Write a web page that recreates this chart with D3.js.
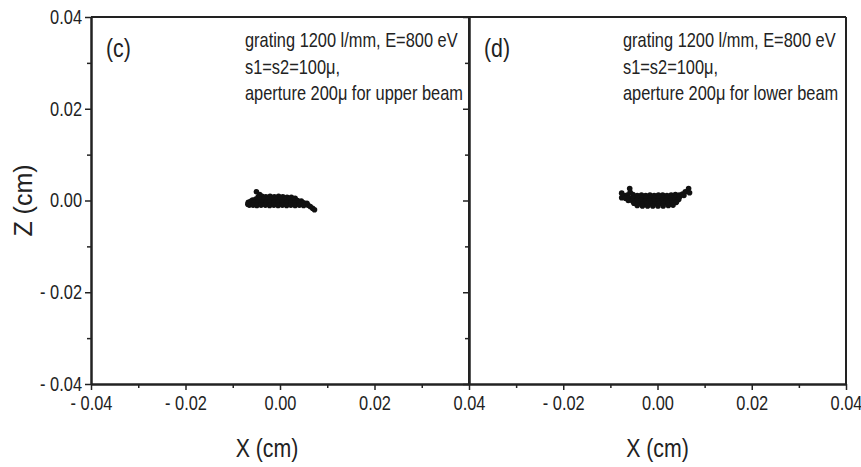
<!DOCTYPE html>
<html>
<head>
<meta charset="utf-8">
<script src="https://cdn.jsdelivr.net/npm/d3@7"></script>
<style>
  body { margin: 0; background: #fff; }
  svg { display: block; }
  .narrow { font-family: "Liberation Sans Narrow", "Arial Narrow", "Liberation Sans", Arial, sans-serif; fill: #222; }
</style>
</head>
<body>
<svg width="861" height="467"></svg>
<script>
const svg = d3.select('svg');

// axis ticks (cm)
const majorTicks = [-0.04, -0.02, 0, 0.02, 0.04];
const minorTicks = [-0.03, -0.01, 0.01, 0.03];

// panel labels and notes
const panelTags = ['(c)', '(d)'];
const notesC = ['grating 1200 l/mm, E=800 eV', 's1=s2=100\u03bc,', 'aperture 200\u03bc for upper beam'];
const notesD = ['grating 1200 l/mm, E=800 eV', 's1=s2=100\u03bc,', 'aperture 200\u03bc for lower beam'];

// spot positions [x, z] in cm
const spotsC = [
  [-0.0050, 0.0019], [-0.0043, 0.0013],
  [-0.0046, 0.0008], [-0.0038, 0.0009], [-0.0030, 0.0008], [-0.0021, 0.0009], [-0.0012, 0.0008],
  [-0.0003, 0.0009], [0.0006, 0.0008], [0.0015, 0.0007], [0.0024, 0.0007], [0.0032, 0.0005],
  [-0.0058, 0.0001], [-0.0051, 0.0003], [-0.0042, 0.0002], [-0.0034, 0.0003], [-0.0026, 0.0002],
  [-0.0017, 0.0003], [-0.0008, 0.0002], [0.0001, 0.0003], [0.0010, 0.0002], [0.0019, 0.0002],
  [0.0028, 0.0001], [0.0037, 0.0000], [0.0045, -0.0001],
  [-0.0067, -0.0004], [-0.0062, -0.0002], [-0.0055, -0.0004], [-0.0047, -0.0003], [-0.0039, -0.0004],
  [-0.0030, -0.0004], [-0.0022, -0.0003], [-0.0013, -0.0004], [-0.0004, -0.0004], [0.0005, -0.0003],
  [0.0014, -0.0004], [0.0023, -0.0004], [0.0032, -0.0005], [0.0041, -0.0005], [0.0050, -0.0005],
  [0.0057, -0.0006],
  [-0.0065, -0.0010], [-0.0057, -0.0010], [-0.0049, -0.0011], [-0.0040, -0.0010], [-0.0031, -0.0010],
  [-0.0022, -0.0011], [-0.0013, -0.0010], [-0.0004, -0.0011], [0.0005, -0.0010], [0.0014, -0.0011],
  [0.0023, -0.0010], [0.0032, -0.0011], [0.0041, -0.0010], [0.0050, -0.0011], [0.0059, -0.0010],
  [0.0064, -0.0013], [0.0069, -0.0017], [0.0073, -0.0020], [-0.0068, -0.0008]
];

const spotsD = [
  [-0.0076, 0.0016], [-0.0076, 0.0006], [-0.0070, 0.0011], [-0.0059, 0.0026], [-0.0058, 0.0018],
  [-0.0064, 0.0012], [-0.0052, 0.0013], [-0.0043, 0.0011], [-0.0034, 0.0012], [-0.0025, 0.0011],
  [-0.0016, 0.0012], [-0.0007, 0.0011], [0.0002, 0.0012], [0.0011, 0.0012], [0.0020, 0.0011],
  [0.0029, 0.0012], [0.0038, 0.0013], [0.0046, 0.0012], [0.0053, 0.0014],
  [-0.0068, 0.0005], [-0.0060, 0.0006], [-0.0051, 0.0006], [-0.0042, 0.0005], [-0.0033, 0.0006],
  [-0.0024, 0.0006], [-0.0015, 0.0005], [-0.0006, 0.0006], [0.0003, 0.0006], [0.0012, 0.0005],
  [0.0021, 0.0006], [0.0030, 0.0006], [0.0039, 0.0007], [0.0047, 0.0008],
  [-0.0062, 0.0000], [-0.0053, -0.0001], [-0.0044, 0.0000], [-0.0035, 0.0000], [-0.0026, -0.0001],
  [-0.0017, 0.0000], [-0.0008, 0.0000], [0.0001, -0.0001], [0.0010, 0.0000], [0.0019, 0.0000],
  [0.0028, 0.0000], [0.0037, 0.0001], [0.0045, 0.0002],
  [-0.0050, -0.0006], [-0.0041, -0.0006], [-0.0032, -0.0007], [-0.0023, -0.0006], [-0.0014, -0.0006],
  [-0.0005, -0.0007], [0.0004, -0.0006], [0.0013, -0.0006], [0.0022, -0.0006], [0.0031, -0.0005],
  [0.0040, -0.0004],
  [-0.0043, -0.0011], [-0.0032, -0.0012], [-0.0021, -0.0012], [-0.0010, -0.0012], [0.0001, -0.0012],
  [0.0012, -0.0012], [0.0023, -0.0011], [0.0033, -0.0010],
  [0.0059, 0.0019], [0.0066, 0.0026], [0.0068, 0.0017], [0.0056, 0.0011]
];

const plotTop = 17, plotBottom = 384;
const fmt = d => (d < 0 ? '- ' : '') + Math.abs(d).toFixed(2);

const y = d3.scaleLinear().domain([-0.04, 0.04]).range([plotBottom, plotTop]);

const panels = [
  { x0: 91, x1: 469, tag: panelTags[0], notes: notesC, spots: spotsC, first: true, titleShift: -13 },
  { x0: 469, x1: 846, tag: panelTags[1], notes: notesD, spots: spotsD, first: false, titleShift: 0 }
];

// no narrow font installed, so squeeze the regular one sideways
const squeeze = sel => sel.each(function () {
  const t = d3.select(this);
  const tx = +t.attr('x') || 0;
  const ty = +t.attr('y') || 0;
  t.attr('x', 0).attr('y', 0)
    .attr('transform', `translate(${tx},${ty}) scale(0.82,1)`);
});

const styleAxis = g => {
  g.select('.domain').attr('stroke', '#222').attr('stroke-width', 2);
  g.selectAll('.tick line').attr('stroke', '#222').attr('stroke-width', 1.5);
  g.selectAll('text')
    .attr('class', 'narrow')
    .style('font-size', '20px')
    .attr('fill', '#222')
    .call(squeeze);
};

panels.forEach(p => {
  const x = d3.scaleLinear().domain([-0.04, 0.04]).range([p.x0, p.x1]);
  const g = svg.append('g');

  // frame: top and right edges
  g.append('line')
    .attr('x1', x(-0.04)).attr('x2', x(0.04))
    .attr('y1', y(0.04)).attr('y2', y(0.04))
    .attr('stroke', '#222').attr('stroke-width', 2);
  g.append('line')
    .attr('x1', x(0.04)).attr('x2', x(0.04))
    .attr('y1', y(0.04)).attr('y2', y(-0.04))
    .attr('stroke', '#222').attr('stroke-width', 2);

  // x axis, major + minor
  const xTicks = p.first ? majorTicks : majorTicks.slice(1);
  g.append('g')
    .attr('transform', `translate(0,${plotBottom})`)
    .call(d3.axisBottom(x).tickValues(xTicks).tickSize(6).tickSizeOuter(0).tickPadding(6).tickFormat(fmt))
    .call(styleAxis);
  g.append('g')
    .attr('transform', `translate(0,${plotBottom})`)
    .call(d3.axisBottom(x).tickValues(minorTicks).tickSize(4).tickSizeOuter(0).tickFormat(''))
    .call(styleAxis);

  // y axis, major + minor
  g.append('g')
    .attr('transform', `translate(${p.x0},0)`)
    .call(d3.axisLeft(y).tickValues(majorTicks).tickSize(6).tickSizeOuter(0).tickPadding(3)
      .tickFormat(p.first ? fmt : ''))
    .call(styleAxis);
  g.append('g')
    .attr('transform', `translate(${p.x0},0)`)
    .call(d3.axisLeft(y).tickValues(minorTicks).tickSize(4).tickSizeOuter(0).tickFormat(''))
    .call(styleAxis);

  // spots
  g.append('g').selectAll('circle')
    .data(p.spots)
    .join('circle')
      .attr('cx', d => x(d[0]))
      .attr('cy', d => y(d[1]))
      .attr('r', 2.8)
      .attr('fill', '#111');

  // panel tag
  g.append('text')
    .attr('class', 'narrow')
    .attr('x', p.x0 + 15)
    .attr('y', 57)
    .style('font-size', '26px')
    .text(p.tag)
    .call(squeeze);

  // notes
  g.append('g').selectAll('text')
    .data(p.notes)
    .join('text')
      .attr('class', 'narrow')
      .attr('x', p.x0 + 154)
      .attr('y', (d, i) => [47, 74, 100][i])
      .style('font-size', '20px')
      .text(d => d)
      .call(squeeze);

  // x title
  g.append('text')
    .attr('class', 'narrow')
    .attr('x', x(0) + p.titleShift)
    .attr('y', 457)
    .attr('text-anchor', 'middle')
    .style('font-size', '26px')
    .text('X (cm)')
    .call(squeeze);
});

// z title
svg.append('text')
  .attr('transform', `translate(32,${y(0)}) rotate(-90)`)
  .attr('text-anchor', 'middle')
  .style('font-family', '"Liberation Sans", Arial, sans-serif')
  .style('font-size', '25px')
  .attr('fill', '#222')
  .text('Z (cm)');
</script>
</body>
</html>
